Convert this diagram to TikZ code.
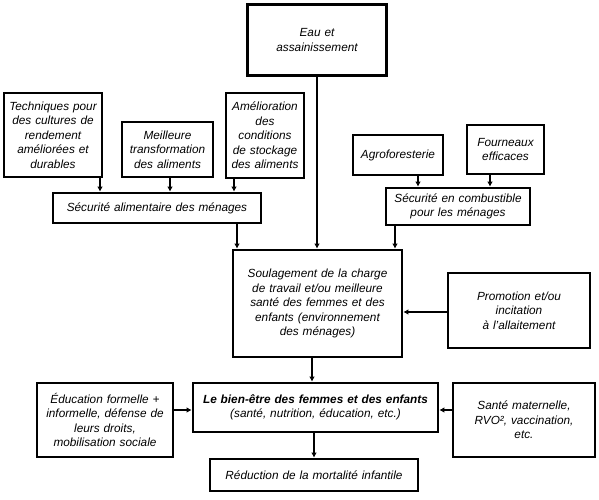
\documentclass[tikz,border=0pt]{standalone}
\usepackage{fontspec}
\setmainfont{Liberation Sans}
\usetikzlibrary{arrows.meta}
\begin{document}
\begin{tikzpicture}[x=1pt,y=-1pt,
  box/.style={draw, line width=2.6pt, inner sep=0pt, align=center,
    font=\itshape\fontsize{11.8}{14.5}\selectfont},
  bx/.style n args={2}{minimum width=#1, text width=#1, minimum height=#2},
  arr/.style={line width=1.8pt, -{Latex[length=5pt,width=5.5pt]}}]
\useasboundingbox (0,0) rectangle (599,500);
\node[box, bx={139pt}{71pt}] (eau) at (317,40) {Eau et\\assainissement};
\node[box, bx={98pt}{84pt}] (tech) at (53,135) {Techniques pour\\des cultures de\\rendement\\améliorées et\\durables};
\node[box, bx={91pt}{55pt}] (meil) at (167.5,149.5) {Meilleure\\transformation\\des aliments};
\node[box, bx={78pt}{85pt}] (amel) at (265,135.5) {Amélioration\\des\\conditions\\de stockage\\des aliments};
\node[box, bx={208pt}{30pt}] (secal) at (157,208) {Sécurité alimentaire des ménages};
\node[box, bx={90pt}{40pt}] (agro) at (398,155) {Agroforesterie};
\node[box, bx={77pt}{49pt}] (fourn) at (505.5,149.5) {Fourneaux\\efficaces};
\node[box, bx={144pt}{37pt}] (comb) at (458,206.5) {Sécurité en combustible\\pour les ménages};
\node[box, bx={169pt}{107pt}] (soul) at (317.5,303.5) {Soulagement de la charge\\de travail et/ou meilleure\\santé des femmes et des\\enfants (environnement\\des ménages)};
\node[box, bx={142pt}{75pt}] (promo) at (519,310.5) {Promotion et/ou\\incitation\\à l'allaitement};
\node[box, bx={136pt}{74pt}] (educ) at (105,420) {Éducation formelle +\\informelle, défense de\\leurs droits,\\mobilisation sociale};
\node[box, bx={245pt}{49pt}] (bien) at (315.5,407.5) {\textbf{Le bien-être des femmes et des enfants}\\(santé, nutrition, éducation, etc.)};
\node[box, bx={142pt}{74pt}] (sante) at (524,420) {Santé maternelle,\\RVO², vaccination,\\etc.};
\node[box, bx={208pt}{32pt}] (reduc) at (314,475) {Réduction de la mortalité infantile};
\coordinate (xa) at (100,0);
\coordinate (xb) at (170,0);
\coordinate (xc) at (234,0);
\coordinate (xd) at (237,0);
\coordinate (xe) at (317,0);
\coordinate (xf) at (418,0);
\coordinate (xg) at (490,0);
\coordinate (xh) at (395,0);
\coordinate (xi) at (312,0);
\coordinate (xj) at (314,0);
\coordinate (ya) at (0,312);
\coordinate (yb) at (0,410);
\draw[arr] (tech.south -| xa) -- (secal.north -| xa);
\draw[arr] (meil.south -| xb) -- (secal.north -| xb);
\draw[arr] (amel.south -| xc) -- (secal.north -| xc);
\draw[arr] (secal.south -| xd) -- (soul.north -| xd);
\draw[arr] (eau.south -| xe) -- (soul.north -| xe);
\draw[arr] (agro.south -| xf) -- (comb.north -| xf);
\draw[arr] (fourn.south -| xg) -- (comb.north -| xg);
\draw[arr] (comb.south -| xh) -- (soul.north -| xh);
\draw[arr] (promo.west |- ya) -- (soul.east |- ya);
\draw[arr] (soul.south -| xi) -- (bien.north -| xi);
\draw[arr] (educ.east |- yb) -- (bien.west |- yb);
\draw[arr] (sante.west |- yb) -- (bien.east |- yb);
\draw[arr] (bien.south -| xj) -- (reduc.north -| xj);
\end{tikzpicture}
\end{document}
